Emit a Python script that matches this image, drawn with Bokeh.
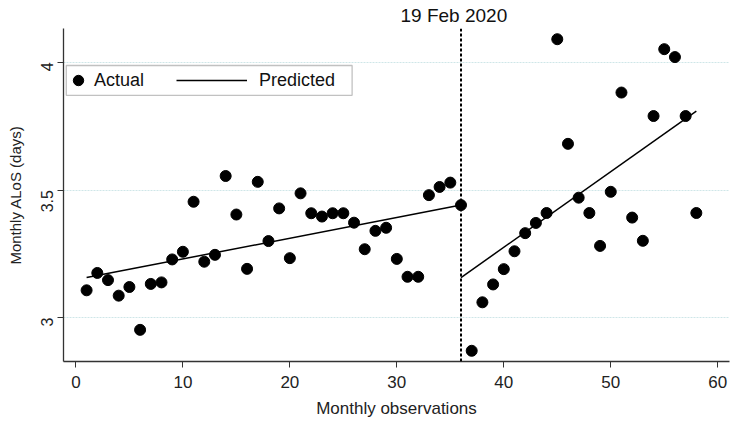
from bokeh.plotting import figure
from bokeh.models import Legend, LegendItem, Span, Range1d, FixedTicker, BoxAnnotation
from bokeh.embed import file_html
from bokeh.resources import INLINE
import math

# ---- data ----
obs = list(range(1, 59))
alos = [3.107, 3.175, 3.147, 3.086, 3.120, 2.952, 3.132, 3.138, 3.228, 3.258,
        3.454, 3.219, 3.246, 3.555, 3.404, 3.191, 3.532, 3.300, 3.428, 3.233,
        3.487, 3.409, 3.396, 3.409, 3.409, 3.372, 3.268, 3.340, 3.352, 3.230,
        3.160, 3.160, 3.480, 3.512, 3.529, 3.441, 2.870, 3.060, 3.130, 3.190,
        3.260, 3.331, 3.371, 3.410, 4.091, 3.681, 3.470, 3.410, 3.281, 3.493,
        3.882, 3.392, 3.301, 3.790, 4.052, 4.021, 3.790, 3.410]
pred_pre_x = [1, 36]
pred_pre_y = [3.157, 3.441]
pred_post_x = [36, 58]
pred_post_y = [3.157, 3.809]
break_x = 36
break_label = "19 Feb 2020"
x_ticks = [0, 10, 20, 30, 40, 50, 60]
y_ticks = [3, 3.5, 4]

FONT = "Liberation Sans"

p = figure(width=736, height=423, output_backend="svg", toolbar_location=None,
           x_range=Range1d(-1.16, 61.1), y_range=Range1d(2.828, 4.133),
           min_border_left=63, min_border_right=7, min_border_top=27,
           min_border_bottom=62)
p.outline_line_color = None
p.background_fill_color = "white"

p.title.text = break_label
p.title.align = "left"
p.title.offset = 337
p.title.text_font = FONT
p.title.text_font_size = "19px"
p.title.text_font_style = "normal"
p.title.text_color = "#111111"
p.title.standoff = 5

# grid
p.xgrid.visible = False
p.ygrid.ticker = FixedTicker(ticks=y_ticks)
p.ygrid.grid_line_color = "#cfe6e8"
p.ygrid.grid_line_width = 1
p.ygrid.grid_line_dash = "2 1"

# axes
for ax in (p.xaxis[0], p.yaxis[0]):
    ax.axis_line_color = "#333333"
    ax.axis_line_width = 1.3
    ax.major_tick_line_color = "#333333"
    ax.major_tick_out = 6
    ax.major_tick_in = 0
    ax.minor_tick_line_color = None
    ax.major_label_text_font = FONT
    ax.major_label_text_color = "#222222"
    ax.axis_label_text_font = FONT
    ax.axis_label_text_font_style = "normal"
    ax.axis_label_text_color = "#222222"

p.xaxis.ticker = FixedTicker(ticks=x_ticks)
p.yaxis.ticker = FixedTicker(ticks=y_ticks)
p.xaxis.axis_label = "Monthly observations"
p.yaxis.axis_label = "Monthly ALoS (days)"
p.xaxis.major_label_text_font_size = "17px"
p.xaxis.axis_label_text_font_size = "17px"
p.yaxis.major_label_text_font_size = "16px"
p.yaxis.axis_label_text_font_size = "15px"
p.yaxis.major_label_orientation = math.pi / 2
p.xaxis.major_label_standoff = 8
p.xaxis.axis_label_standoff = 8
p.yaxis.major_label_standoff = 10
p.yaxis.axis_label_standoff = 9

# vertical break line
p.add_layout(Span(location=break_x, dimension="height", line_color="black",
                  line_width=2, line_dash="3 2"))

sc = p.scatter(obs, alos, size=11, color="black")
l1 = p.line(pred_pre_x, pred_pre_y, color="black", line_width=1.5)
l2 = p.line(pred_post_x, pred_post_y, color="black", line_width=1.5)

# legend frame
p.add_layout(BoxAnnotation(left=-0.9, right=25.82, top=3.988, bottom=3.871,
                           fill_color="white", fill_alpha=1.0,
                           line_color="#333333", line_width=1.3, level="annotation"))

legA = Legend(items=[LegendItem(label="Actual", renderers=[sc])],
              location=(2, 268), glyph_width=26, glyph_height=26, label_height=26,
              label_standoff=3, padding=0, margin=0, border_line_color=None,
              background_fill_alpha=0, label_text_font=FONT,
              label_text_font_size="18px", label_text_color="#111111")
legB = Legend(items=[LegendItem(label="Predicted", renderers=[l1])],
              location=(113, 268), glyph_width=71, glyph_height=26, label_height=26,
              label_standoff=12, padding=0, margin=0, border_line_color=None,
              background_fill_alpha=0, label_text_font=FONT,
              label_text_font_size="18px", label_text_color="#111111")
p.add_layout(legA)
p.add_layout(legB)

open("out.html", "w").write(file_html(p, INLINE))
